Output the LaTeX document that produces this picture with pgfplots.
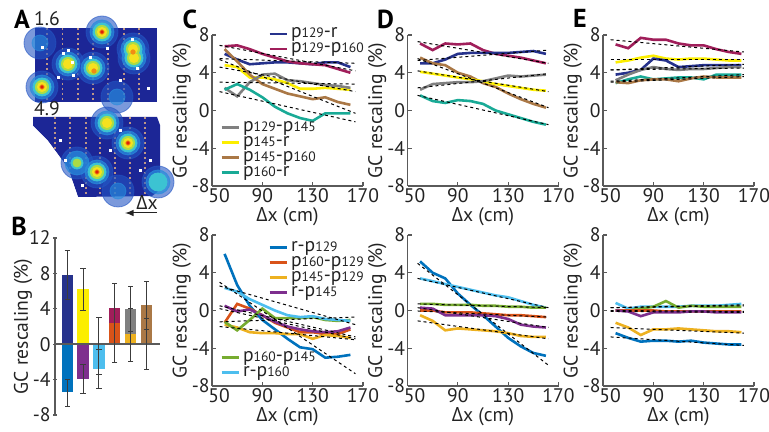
\documentclass[border=0pt]{standalone}
\usepackage{fontspec}
\setmainfont{PT Sans}
\newfontfamily\grk{Open Sans}
\usepackage{pgfplots}
\pgfplotsset{compat=1.18}

\definecolor{ink}{RGB}{35,35,35}
\definecolor{axgray}{RGB}{90,90,90}
\definecolor{ebar}{RGB}{60,60,60}
\definecolor{cA}{RGB}{38,50,140}
\definecolor{cB}{RGB}{160,30,90}
\definecolor{cC}{RGB}{128,128,128}
\definecolor{cD}{RGB}{252,238,0}
\definecolor{cE}{RGB}{170,120,70}
\definecolor{cF}{RGB}{25,170,150}
\definecolor{cG}{RGB}{0,114,189}
\definecolor{cH}{RGB}{217,83,25}
\definecolor{cI}{RGB}{237,177,32}
\definecolor{cJ}{RGB}{126,47,142}
\definecolor{cK}{RGB}{119,172,48}
\definecolor{cL}{RGB}{77,190,238}
\definecolor{mapblue}{RGB}{28,38,150}
\definecolor{halo}{RGB}{35,85,195}
\definecolor{halo2}{RGB}{40,140,220}
\definecolor{cyn}{RGB}{60,195,210}
\definecolor{grn}{RGB}{170,220,70}
\definecolor{yel}{RGB}{245,225,30}
\definecolor{org}{RGB}{240,140,20}
\definecolor{red}{RGB}{220,30,10}
\definecolor{colgray}{RGB}{190,150,135}

\newcommand\fs{\fontsize{9.8}{9.8}\selectfont}
\newcommand\pp[1]{p{\fontsize{6.8}{6.8}\selectfont #1}}
\newcommand\dx{{\grk Δ}x (cm)}

\pgfplotsset{
  base/.style={scale only axis, axis lines=left, axis line style={-, draw=axgray, line width=0.7pt},
    tick style={draw=axgray, line width=0.6pt}, tick align=inside, major tick length=2pt,
    ticklabel style={font=\fs, text=ink}, label style={font=\fs, text=ink},
    /pgf/number format/assume math mode=true,
    yticklabel style={inner sep=1pt}, xticklabel style={inner sep=1pt}},
  gc/.style={base, width=75.5pt, height=75.5pt, xmin=50, xmax=170, ymin=-8, ymax=8,
    xtick={50,90,130,170}, xticklabels={\hspace*{7pt}50,90,130,170},
    ytick={-8,-4,0,4,8}, yticklabels={-8,-4,0,4,8},
    ylabel={GC rescaling (\%)}, xlabel={\dx},
    ylabel style={at={(axis description cs:-0.2,0.5)}, anchor=center},
    xlabel style={at={(axis description cs:0.5,-0.2)}, anchor=center}},
  d/.style={line width=1.3pt},
  f/.style={black, line width=0.5pt, dash pattern=on 1.5pt off 1.5pt},
  leg/.style={hide axis, scale only axis, width=75.5pt, height=75.5pt, xmin=0, xmax=1, ymin=0, ymax=1,
    legend cell align=left,
    legend style={draw=none, fill=none, inner sep=0pt, row sep=0.5pt, column sep=1.5pt, font=\fs, text=ink,
      nodes={inner sep=0pt, text height=5.5pt, text depth=1.5pt, anchor=west}},
    legend image code/.code={\draw[##1] (0pt,0pt) -- (8.5pt,0pt);}},
  map/.style={hide axis, scale only axis, y dir=reverse},
  blob/.style n args={2}{only marks, mark=*, mark size=#1, color=#2, mark options={draw=#2, fill=#2}},
}

\begin{document}
\begin{tikzpicture}
\path[use as bounding box] (0,0) rectangle (384.5pt,-216pt);

% ---------- A: rate maps ----------
\begin{axis}[map, at={(17.5pt,-51pt)}, anchor=south west, width=61pt, height=37pt,
  xmin=35, xmax=157, ymin=28, ymax=102]
\addplot[fill=mapblue, draw=none] coordinates {(35,28)(157,28)(157,102)(35,102)} -- cycle;
\addplot[blob={8pt}{halo}, opacity=0.6] coordinates {(102,32)(133,49)(134,58)(68,64)(93,68)(42,87)(40,43)(117,97)};
\addplot[blob={6pt}{halo2}, opacity=0.7] coordinates {(102,32)(133,49)(134,58)(68,64)(93,68)(42,87)};
\addplot[blob={4pt}{halo2}, opacity=0.6] coordinates {(40,43)(117,97)};
\addplot[blob={4.5pt}{cyn}] coordinates {(102,32)(133,49)(134,58)(68,64)(93,68)(42,87)};
\addplot[blob={3.3pt}{grn}] coordinates {(102,32)(133,49)(134,58)(68,64)(93,68)(42,87)};
\addplot[blob={2.3pt}{yel}] coordinates {(102,32)(133,49)(134,58)(68,64)(93,68)(42,87)};
\addplot[blob={1.1pt}{org}] coordinates {(102,32)(133,52)(94,71)(42,87)};
\addplot[blob={0.6pt}{red}] coordinates {(102,32)(42,87)};
\pgfplotsinvokeforeach{47,62.5,78,93,108,124,139}{
  \addplot[colgray, line width=0.75pt, dash pattern=on 1.25pt off 1.25pt] coordinates {(#1,28)(#1,102)};}
\addplot[only marks, mark=square*, mark size=0.5pt, white, mark options={draw=white, fill=white}] coordinates {(63,53)(68,50)(72,62)(58,77)(107,48)(132,39)(137,68)(148,88)(120,80)(73,75)(42,47)(90,57)};
\end{axis}

\begin{axis}[map, at={(16.5pt,-98.5pt)}, anchor=south west, width=63.5pt, height=40pt,
  xmin=33, xmax=160, ymin=117, ymax=197]
\addplot[fill=mapblue, draw=none] coordinates {(33,117)(157,117)(160,125)(160,190)(152,196)(78,197)(68,168)(48,141)(33,126)} -- cycle;
\addplot[blob={8pt}{halo}, opacity=0.6] coordinates {(107,123)(128,143)(97,172)(77,163)(158,182)(118,191)};
\addplot[blob={6pt}{halo2}, opacity=0.7] coordinates {(107,123)(128,143)(97,172)(77,163)(158,182)};
\addplot[blob={4pt}{halo2}, opacity=0.6] coordinates {(118,191)};
\addplot[blob={4.5pt}{cyn}] coordinates {(107,123)(128,143)(97,172)(158,182)};
\addplot[blob={3pt}{cyn}] coordinates {(77,163)};
\addplot[blob={3.3pt}{grn}] coordinates {(107,123)(128,143)(97,172)};
\addplot[blob={2pt}{grn}] coordinates {(77,163)};
\addplot[blob={2.3pt}{yel}] coordinates {(107,123)(128,143)(97,172)};
\addplot[blob={1.1pt}{org}] coordinates {(128,143)(97,172)};
\addplot[blob={0.6pt}{red}] coordinates {(128,143)(97,172)};
\pgfplotsinvokeforeach{55,70,86,100,115,130,145}{
  \addplot[colgray, line width=0.75pt, dash pattern=on 1.25pt off 1.25pt] coordinates {(#1,117)(#1,197)};}
\addplot[only marks, mark=square*, mark size=0.5pt, white, mark options={draw=white, fill=white}] coordinates {(65,160)(82,185)(140,170)(110,150)(150,160)(60,140)(120,130)};
\addplot[fill=white, draw=none] coordinates {(33,126)(48,141)(68,168)(78,197)(33,197)} -- cycle;
\end{axis}

\node[font=\fontsize{13}{13}\selectfont\bfseries, text=black] at (11pt,-9.5pt) {A};
\node[font=\fs, text=ink] at (23.5pt,-9.5pt) {1.6};
\node[font=\fs, text=ink] at (23.5pt,-54.5pt) {4.9};
\node[font=\fs, text=ink] at (73.5pt,-101.5pt) {{\grk Δ}x};
\draw[ink, line width=0.5pt, -{latex}] (78.5pt,-106.5pt) -- (62.5pt,-106.5pt);

% ---------- B: bars ----------
\node[font=\fontsize{13}{13}\selectfont\bfseries, text=black] at (9.5pt,-113pt) {B};
\begin{axis}[base, at={(27.5pt,-207.5pt)}, anchor=south west, width=52.5pt, height=88.5pt,
  axis x line=none, axis y line=left, axis line style={-, draw=axgray, line width=0.7pt},
  xmin=0.236, xmax=6.84, ymin=-8, ymax=12,
  ytick={-8,-4,0,4,8,12}, yticklabels={-8,-4,0,4,8,12}, ylabel={GC rescaling (\%)},
  ylabel style={at={(axis description cs:-0.305,0.5)}, anchor=center}, clip=false]
\addplot[ybar, bar width=0.71, bar shift=0pt, fill=cA, draw=none] coordinates {(1,7.8)};
\addplot[ybar, bar width=0.71, bar shift=0pt, fill=cG, draw=none] coordinates {(1,-5.45)};
\addplot[ybar, bar width=0.71, bar shift=0pt, fill=cD, draw=none] coordinates {(2,6.2)};
\addplot[ybar, bar width=0.71, bar shift=0pt, fill=cJ, draw=none] coordinates {(2,-3.9)};
\addplot[ybar, bar width=0.71, bar shift=0pt, fill=cL, draw=none] coordinates {(3,-2.8)};
\addplot[ybar, bar width=0.71, bar shift=0pt, fill=cB, draw=none] coordinates {(4,4.1)};
\addplot[ybar, bar width=0.71, bar shift=0pt, fill=cH, draw=none] coordinates {(4,2.4)};
\addplot[ybar, bar width=0.71, bar shift=0pt, fill=cC, draw=none] coordinates {(5,4.0)};
\addplot[ybar, bar width=0.71, bar shift=0pt, fill=cI, draw=none] coordinates {(5,1.1)};
\addplot[ybar, bar width=0.71, bar shift=0pt, fill=cE, draw=none] coordinates {(6,4.4)};
\addplot[axgray, line width=0.7pt] coordinates {(0.236,0)(6.84,0)};
\addplot[draw=none, mark=none, error bars/.cd, y dir=both, y explicit,
  error bar style={draw=ebar, line width=0.5pt},
  error mark options={draw=ebar, rotate=90, mark size=1.3pt, line width=0.5pt}]
  coordinates {(1,7.85) +- (0,2.75) (1,-5.5) +- (0,1.5) (2,6.18) +- (0,2.42) (2,-3.93) +- (0,1.63)
   (3,-1.0) +- (0,4.0) (3,-1.98) +- (0,1.42) (4,2.38) +- (0,4.46) (5,2.25) +- (0,4.25)
   (5,2.7) +- (0,1.3) (6,2.1) +- (0,5.0) (6,2.3) +- (0,0.6)};
\end{axis}

% ---------- C ----------
\node[font=\fontsize{13}{13}\selectfont\bfseries, text=black] at (95pt,-9.5pt) {C};
\begin{axis}[gc, at={(106pt,-93pt)}, anchor=south west]
\addplot[d, cA] coordinates {(60,6.0)(70,5.4)(80,4.9)(90,5.0)(100,5.1)(110,5.1)(120,5.0)(130,4.9)(140,5.1)(150,5.1)(160,4.6)};
\addplot[d, cB] coordinates {(60,6.8)(70,6.9)(80,6.5)(90,6.0)(100,5.6)(110,5.2)(120,5.0)(130,4.9)(140,4.8)(150,4.4)(160,4.0)};
\addplot[d, cD] coordinates {(60,4.8)(70,4.6)(80,3.5)(90,3.5)(100,3.3)(110,2.9)(120,2.3)(130,2.3)(140,2.4)(150,2.3)(160,2.2)};
\addplot[d, cE] coordinates {(60,6.5)(70,5.2)(80,3.8)(90,2.8)(100,2.3)(110,1.8)(120,1.5)(130,1.2)(140,1.4)(150,0.9)(160,0.6)};
\addplot[d, cC] coordinates {(60,2.4)(70,1.5)(80,3.0)(90,3.8)(100,3.9)(110,3.2)(120,3.1)(130,2.9)(140,2.7)(150,2.6)(160,2.4)};
\addplot[d, cF] coordinates {(60,2.2)(70,2.8)(80,2.2)(90,1.4)(100,0.4)(110,-0.3)(120,-0.8)(130,-1.1)(140,-0.3)(150,-0.3)(160,-0.3)};
\addplot[f] coordinates {(56,5.5)(164,5.0)};
\addplot[f] coordinates {(56,6.9)(164,4.2)};
\addplot[f] coordinates {(56,4.6)(164,2.0)};
\addplot[f] coordinates {(56,5.4)(164,-0.3)};
\addplot[f] coordinates {(56,3.0)(164,2.8)};
\addplot[f] coordinates {(56,2.0)(164,-1.2)};
\end{axis}
\begin{axis}[leg, at={(106pt,-93pt)}, anchor=south west,
  legend style={at={(0.371,1.056)}, anchor=north west}]
\addlegendimage{cA, line width=1.3pt}\addlegendentry{\pp{129}-r}
\addlegendimage{cB, line width=1.3pt}\addlegendentry{\pp{129}-\pp{160}}
\end{axis}
\begin{axis}[leg, at={(106pt,-93pt)}, anchor=south west,
  legend style={at={(0.053,0.437)}, anchor=north west}]
\addlegendimage{cC, line width=1.3pt}\addlegendentry{\pp{129}-\pp{145}}
\addlegendimage{cD, line width=1.3pt}\addlegendentry{\pp{145}-r}
\addlegendimage{cE, line width=1.3pt}\addlegendentry{\pp{145}-\pp{160}}
\addlegendimage{cF, line width=1.3pt}\addlegendentry{\pp{160}-r}
\end{axis}

\begin{axis}[gc, at={(106pt,-193pt)}, anchor=south west]
\addplot[d, cG] coordinates {(60,6.0)(70,2.7)(80,0.5)(90,-1.0)(100,-2.0)(110,-3.0)(120,-3.9)(130,-4.1)(140,-5.0)(150,-4.9)(160,-4.7)};
\addplot[d, cH] coordinates {(60,-1.3)(70,0.7)(80,0.2)(90,-0.5)(100,-1.3)(110,-1.8)(120,-2.3)(130,-2.3)(140,-2.5)(150,-2.5)(160,-2.0)};
\addplot[d, cI] coordinates {(60,-1.5)(70,-1.8)(80,-2.3)(90,-2.4)(100,-2.4)(110,-2.5)(120,-2.5)(130,-3.0)(140,-2.6)(150,-2.7)(160,-2.9)};
\addplot[d, cJ] coordinates {(60,0.5)(70,-0.1)(80,0.1)(90,-0.5)(100,-1.2)(110,-1.7)(120,-2.0)(130,-2.2)(140,-2.3)(150,-2.2)(160,-1.8)};
\addplot[d, cK] coordinates {(60,-1.2)(70,-2.1)(80,-1.0)(90,0.2)(100,-0.8)(110,-0.8)(120,-0.8)(130,-0.7)(140,-1.0)(150,-1.1)(160,-1.0)};
\addplot[d, cL] coordinates {(60,2.4)(70,2.0)(80,1.2)(90,0.6)(100,0.0)(110,-0.5)(120,-0.7)(130,-0.6)(140,-0.9)(150,-1.0)(160,-1.1)};
\addplot[f] coordinates {(56,3.0)(164,-6.7)};
\addplot[f] coordinates {(56,2.6)(164,-1.5)};
\addplot[f] coordinates {(56,0.5)(164,-2.8)};
\addplot[f] coordinates {(56,0.2)(164,-3.0)};
\addplot[f] coordinates {(56,-1.7)(164,-3.1)};
\addplot[f] coordinates {(56,-1.2)(164,-0.7)};
\end{axis}
\begin{axis}[leg, at={(106pt,-193pt)}, anchor=south west,
  legend style={at={(0.371,0.967)}, anchor=north west}]
\addlegendimage{cG, line width=1.3pt}\addlegendentry{r-\pp{129}}
\addlegendimage{cH, line width=1.3pt}\addlegendentry{\pp{160}-\pp{129}}
\addlegendimage{cI, line width=1.3pt}\addlegendentry{\pp{145}-\pp{129}}
\addlegendimage{cJ, line width=1.3pt}\addlegendentry{r-\pp{145}}
\end{axis}
\begin{axis}[leg, at={(106pt,-193pt)}, anchor=south west,
  legend style={at={(0.053,0.238)}, anchor=north west}]
\addlegendimage{cK, line width=1.3pt}\addlegendentry{\pp{160}-\pp{145}}
\addlegendimage{cL, line width=1.3pt}\addlegendentry{r-\pp{160}}
\end{axis}

% ---------- D ----------
\node[font=\fontsize{13}{13}\selectfont\bfseries, text=black] at (192.75pt,-9.5pt) {D};
\begin{axis}[gc, at={(203.75pt,-93pt)}, anchor=south west]
\addplot[d, cB] coordinates {(60,7.1)(70,6.4)(80,7.1)(90,7.0)(100,7.1)(110,6.4)(120,6.0)(130,5.8)(140,5.6)(150,5.3)(160,5.0)};
\addplot[d, cA] coordinates {(60,5.0)(70,5.0)(80,5.4)(90,6.0)(100,6.1)(110,6.1)(120,6.1)(130,6.1)(140,6.2)(150,6.3)(160,6.0)};
\addplot[d, cE] coordinates {(60,5.6)(70,5.0)(80,4.8)(90,4.0)(100,3.6)(110,2.9)(120,2.5)(130,1.8)(140,1.2)(150,0.7)(160,0.3)};
\addplot[d, cD] coordinates {(60,4.1)(70,3.9)(80,3.7)(90,3.5)(100,3.3)(110,3.1)(120,2.8)(130,2.6)(140,2.4)(150,2.2)(160,2.1)};
\addplot[d, cC] coordinates {(60,2.2)(70,2.8)(80,2.9)(90,3.0)(100,3.0)(110,3.1)(120,3.4)(130,3.7)(140,3.6)(150,3.7)(160,3.8)};
\addplot[d, cF] coordinates {(60,1.6)(70,1.0)(80,0.8)(90,1.1)(100,1.0)(110,0.7)(120,0.0)(130,-0.4)(140,-0.8)(150,-1.2)(160,-1.5)};
\addplot[f] coordinates {(58,7.3)(162,5.0)};
\addplot[f] coordinates {(58,5.3)(162,6.4)};
\addplot[f] coordinates {(58,5.5)(162,0.3)};
\addplot[f] coordinates {(58,4.2)(162,2.0)};
\addplot[f] coordinates {(58,2.4)(162,3.9)};
\addplot[f] coordinates {(58,1.6)(162,-1.5)};
\end{axis}
\begin{axis}[gc, at={(203.75pt,-193pt)}, anchor=south west]
\addplot[d, cG] coordinates {(60,5.2)(70,4.0)(80,3.4)(90,1.8)(100,0.6)(110,-0.5)(120,-1.7)(130,-2.9)(140,-3.8)(150,-4.5)(160,-4.8)};
\addplot[d, cL] coordinates {(60,3.4)(70,3.1)(80,2.8)(90,2.5)(100,2.2)(110,1.9)(120,1.6)(130,1.4)(140,1.0)(150,0.6)(160,0.3)};
\addplot[d, cK] coordinates {(60,0.7)(70,0.7)(80,0.6)(90,0.6)(100,0.6)(110,0.5)(120,0.5)(130,0.4)(140,0.4)(150,0.3)(160,0.3)};
\addplot[d, cH] coordinates {(60,0.0)(70,0.0)(80,-0.2)(90,-0.2)(100,-0.2)(110,-0.3)(120,-0.4)(130,-0.5)(140,-0.5)(150,-0.6)(160,-0.7)};
\addplot[d, cJ] coordinates {(60,0.3)(70,0.2)(80,-0.5)(90,-0.5)(100,-0.5)(110,-0.5)(120,-0.6)(130,-0.9)(140,-1.5)(150,-1.7)(160,-1.8)};
\addplot[d, cI] coordinates {(60,-0.5)(70,-1.1)(80,-2.1)(90,-1.9)(100,-2.0)(110,-2.1)(120,-2.2)(130,-2.4)(140,-2.7)(150,-2.8)(160,-2.8)};
\addplot[f] coordinates {(58,5.0)(162,-5.8)};
\addplot[f] coordinates {(58,3.4)(162,0.3)};
\addplot[f] coordinates {(58,0.7)(162,0.3)};
\addplot[f] coordinates {(58,-0.05)(162,-0.7)};
\addplot[f] coordinates {(58,0.3)(162,-1.8)};
\addplot[f] coordinates {(58,-1.1)(162,-3.0)};
\end{axis}

% ---------- E ----------
\node[font=\fontsize{13}{13}\selectfont\bfseries, text=black] at (290pt,-9pt) {E};
\begin{axis}[gc, at={(301.5pt,-93pt)}, anchor=south west]
\addplot[d, cB] coordinates {(60,7.0)(70,6.6)(80,7.7)(90,7.5)(100,7.5)(110,7.1)(120,6.9)(130,6.9)(140,6.5)(150,6.2)(160,6.0)};
\addplot[d, cD] coordinates {(60,5.1)(70,5.3)(80,5.6)(90,5.8)(100,5.5)(110,5.4)(120,5.5)(130,5.5)(140,5.4)(150,5.3)(160,5.3)};
\addplot[d, cA] coordinates {(60,3.8)(70,4.0)(80,4.3)(90,5.5)(100,5.3)(110,4.6)(120,4.7)(130,4.8)(140,4.8)(150,4.8)(160,4.8)};
\addplot[d, cC] coordinates {(60,3.2)(70,3.8)(80,4.3)(90,4.6)(100,4.4)(110,4.3)(120,4.4)(130,4.4)(140,4.5)(150,4.6)(160,4.6)};
\addplot[d, cF] coordinates {(60,2.9)(70,3.3)(80,3.6)(90,3.3)(100,3.4)(110,3.5)(120,3.5)(130,3.3)(140,3.8)(150,3.8)(160,3.8)};
\addplot[d, cE] coordinates {(60,3.0)(70,2.9)(80,3.2)(90,3.3)(100,3.3)(110,3.1)(120,3.4)(130,3.6)(140,3.5)(150,3.5)(160,3.5)};
\addplot[f] coordinates {(56,7.5)(162,6.2)};
\addplot[f] coordinates {(56,5.4)(162,5.4)};
\addplot[f] coordinates {(56,4.3)(162,4.9)};
\addplot[f] coordinates {(56,4.3)(162,4.5)};
\addplot[f] coordinates {(56,3.1)(162,3.8)};
\addplot[f] coordinates {(56,3.0)(162,3.6)};
\end{axis}
\begin{axis}[gc, at={(301.5pt,-193pt)}, anchor=south west]
\addplot[d, cL] coordinates {(60,0.8)(70,0.2)(80,0.4)(90,0.4)(100,0.4)(110,0.4)(120,0.5)(130,0.5)(140,0.5)(150,0.6)(160,0.7)};
\addplot[d, cK] coordinates {(60,0.0)(70,0.0)(80,0.2)(90,0.4)(100,1.0)(110,0.3)(120,0.5)(130,0.4)(140,0.4)(150,0.4)(160,0.4)};
\addplot[d, cH] coordinates {(60,0.0)(70,0.0)(80,0.0)(90,0.0)(100,-0.1)(110,-0.1)(120,-0.1)(130,-0.1)(140,-0.1)(150,-0.1)(160,-0.1)};
\addplot[d, cJ] coordinates {(60,0.0)(70,-0.1)(80,-0.6)(90,-0.2)(100,-0.2)(110,-0.2)(120,-0.1)(130,-0.1)(140,-0.2)(150,-0.2)(160,-0.2)};
\addplot[d, cI] coordinates {(60,-1.3)(70,-1.8)(80,-2.6)(90,-2.0)(100,-2.0)(110,-1.9)(120,-2.0)(130,-2.1)(140,-2.2)(150,-2.2)(160,-2.3)};
\addplot[d, cG] coordinates {(60,-2.4)(70,-2.9)(80,-3.3)(90,-3.2)(100,-3.2)(110,-3.3)(120,-3.2)(130,-3.4)(140,-3.5)(150,-3.6)(160,-3.6)};
\addplot[f] coordinates {(56,0.3)(162,0.6)};
\addplot[f] coordinates {(56,0.3)(162,0.5)};
\addplot[f] coordinates {(56,0.0)(162,-0.1)};
\addplot[f] coordinates {(56,-0.1)(162,-0.2)};
\addplot[f] coordinates {(56,-1.8)(162,-2.4)};
\addplot[f] coordinates {(56,-2.8)(162,-3.7)};
\end{axis}
\end{tikzpicture}
\end{document}
